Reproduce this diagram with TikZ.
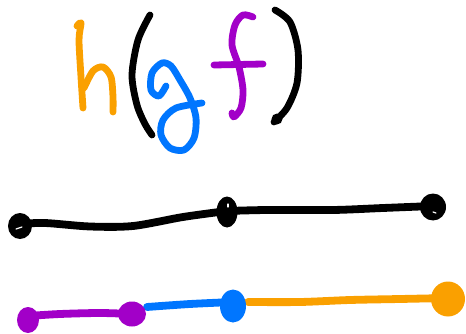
\documentclass[tikz,border=0pt]{standalone}
\definecolor{inkorange}{RGB}{250,160,0}
\definecolor{inkblue}{RGB}{0,118,255}
\definecolor{inkpurple}{RGB}{162,0,200}
\tikzset{
  pen/.style={line width=6.8pt, line cap=round, line join=round},
  thickpen/.style={line width=7.8pt, line cap=round, line join=round},
}
\begin{document}
\begin{tikzpicture}[x=1pt,y=-1pt]
\useasboundingbox (0,0) rectangle (466,334);
% h
\draw[pen,inkorange] plot[smooth] coordinates {(77,26) (81,23) (79,40) (81,77) (83,108)};
\draw[pen,inkorange] plot[smooth] coordinates {(84,88) (93,71) (103,67) (111,77) (113,97) (113,112)};
% (
\draw[pen,black] plot[smooth] coordinates {(150,15) (138,40) (132,75) (137,105) (145,124) (152,135)};
% g
\draw[pen,inkblue] plot[smooth] coordinates {(166,86) (159,96) (151,90) (152,73) (162,63) (171,66) (180,80) (190,98) (196,118) (194,138) (184,150) (170,148) (161,135) (163,120) (176,108) (202,103)};
% f
\draw[pen,inkpurple] plot[smooth] coordinates {(253,17) (243,15) (235,25) (232,45) (239,67) (243,90) (241,108) (234,117) (232,113)};
\draw[pen,inkpurple] (214,65) -- (263,64);
% )
\draw[pen,black] plot[smooth] coordinates {(275,10) (290,22) (298,50) (297,83) (287,108) (274,122)};
\fill[black] (277,119) circle (5.5);
% black line
\coordinate (b1) at (20,226);
\coordinate (b2) at (227,212);
\coordinate (b3) at (433,207);
\draw[thickpen,black] plot[smooth] coordinates {(20,224) (45,223) (90,226.5) (133,226) (183,217) (227,211)};
\draw[thickpen,black] plot[smooth] coordinates {(227,211) (267,210) (333,210) (383,208) (433,206)};
\fill[black] (b1) ellipse (12 and 13);
\fill[black] (b2) ellipse (10.5 and 15.5);
\fill[black] (b3) ellipse (13 and 13.5);
\draw[white,line width=1.2pt,line cap=round] (16,229) -- (22,227);
\draw[white,line width=1.2pt,line cap=round] (228,204) -- (228,207);
\draw[white,line width=1.2pt,line cap=round] (433,212) -- (436,213);
% coloured line
\coordinate (c1) at (28,320);
\coordinate (c2) at (132,314);
\coordinate (c3) at (233,306);
\coordinate (c4) at (448,299);
\draw[thickpen,inkpurple] plot[smooth] coordinates {(28,316) (60,314) (100,313) (132,314)};
\draw[thickpen,inkblue] plot[smooth] coordinates {(147,307) (190,304) (233,302)};
\draw[thickpen,inkorange] plot[smooth] coordinates {(248,302) (300,302) (350,300) (400,299) (448,298)};
\fill[inkpurple] (c1) ellipse (11 and 13);
\fill[inkpurple] (c2) ellipse (14 and 12.5);
\fill[inkblue] (c3) ellipse (13 and 16.5);
\fill[inkorange] (c4) ellipse (17 and 17.5);
\end{tikzpicture}
\end{document}
